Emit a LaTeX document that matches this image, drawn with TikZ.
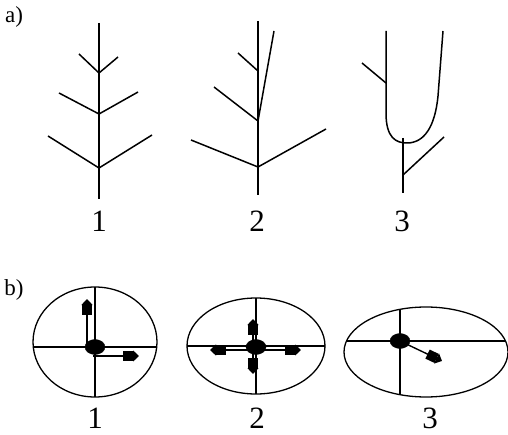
\documentclass[tikz,border=0pt]{standalone}
\usepackage{fontspec}
\setmainfont{Liberation Serif}
\usetikzlibrary{arrows.meta,shapes.geometric}

\begin{document}
\begin{tikzpicture}[
    x=1pt, y=-1pt,
    twig/.style={line width=1.5pt},
    rim/.style={line width=1.3pt},
    cross/.style={line width=1.1pt},
    dot/.style={draw, fill=black, ellipse, inner sep=0pt, minimum width=20pt, minimum height=15pt},
    shaft/.style={line width=1.4pt, -{Square[length=10pt,width=10pt,sep=0pt]Triangle[length=6pt,width=11pt]}, shorten <=-2pt},
    num/.style={font=\fontsize{31}{31}\selectfont, inner sep=0pt},
    part/.style={font=\fontsize{23}{23}\selectfont},
]
\useasboundingbox (0,0) rectangle (508,435);

% === a) shoots ===
\node[part] (pa) at (14,17) {a)};

% shoot 1
\coordinate (t1top) at (99,23);
\coordinate (t1bot) at (99,199);
\coordinate (t1n1) at (99,73);
\coordinate (t1n2) at (99,114);
\coordinate (t1n3) at (99,168);
\draw[twig] (t1top) -- (t1bot);
\draw[twig] (79,54) -- (t1n1) -- (118,57);
\draw[twig] (59,93) -- (t1n2) -- (138,92);
\draw[twig] (48,136) -- (t1n3) -- (152,135);
\node[num] (l1) at (99,221) {1};

% shoot 2
\coordinate (t2top) at (258,21);
\coordinate (t2bot) at (258,195);
\coordinate (t2n1) at (258,71);
\coordinate (t2n2) at (258,121);
\coordinate (t2n3) at (258,167);
\draw[twig] (t2top) -- (t2bot);
\draw[twig] (t2n2) -- (274,31);
\draw[twig] (238,53) -- (t2n1);
\draw[twig] (214,87) -- (t2n2);
\draw[twig] (191,140) -- (t2n3) -- (326,129);
\node[num] (l2) at (257,221) {2};

% shoot 3
\coordinate (t3a) at (386,31);
\coordinate (t3b) at (386,113);
\coordinate (t3low) at (407,143);
\coordinate (t3c) at (443,31);
\coordinate (t3side) at (386,83);
\coordinate (t3stem) at (403,138);
\coordinate (t3bot) at (403,193);
\coordinate (t3n) at (403,175);
\draw[twig] (t3a) -- (t3b) .. controls (386,138) and (396,143) .. (t3low)
    .. controls (424,143) and (435,127) .. (438,96) -- (t3c);
\draw[twig] (362,63) -- (t3side);
\draw[twig] (t3stem) -- (t3bot);
\draw[twig] (t3n) -- (444,137);
\node[num] (l3) at (402,221) {3};

% === b) cross sections ===
\node[part] (pb) at (14,290) {b)};

% section 1
\draw[rim] (95,342) ellipse (62 and 55);
\draw[cross] (33,347) -- (157,347);
\draw[cross] (95,287) -- (95,397);
\node[dot] (d1) at (95,347) {};
\coordinate (u1) at (87,299);
\coordinate (r1) at (139,356);
\draw[shaft] (87,347) -- (u1);
\draw[shaft] (95,356) -- (r1);
\node[num] (m1) at (95,418) {1};

% section 2
\draw[rim] (256,346) ellipse (69 and 48);
\draw[cross] (187,346) -- (325,346);
\draw[cross] (256,298) -- (256,394);
\node[dot] (d2) at (256,347) {};
\draw[shaft] (d2.center) ++(-3,0) -- (253,319);
\draw[shaft] (d2.center) ++(-3,0) -- (253,374);
\draw[shaft] (d2.center) ++(0,3) -- (210,350);
\draw[shaft] (d2.center) ++(0,3) -- (301,350);
\node[num] (m2) at (257,418) {2};

% section 3
\draw[rim] (426,352) ellipse (82 and 45);
\draw[cross] (346.5,341) -- (505.5,341);
\draw[cross] (400,309) -- (400,395);
\node[dot] (d3) at (400,341) {};
\coordinate (r3) at (442,361);
\draw[shaft] (d3.center) -- (r3);
\node[num] (m3) at (430,418) {3};

\end{tikzpicture}
\end{document}
